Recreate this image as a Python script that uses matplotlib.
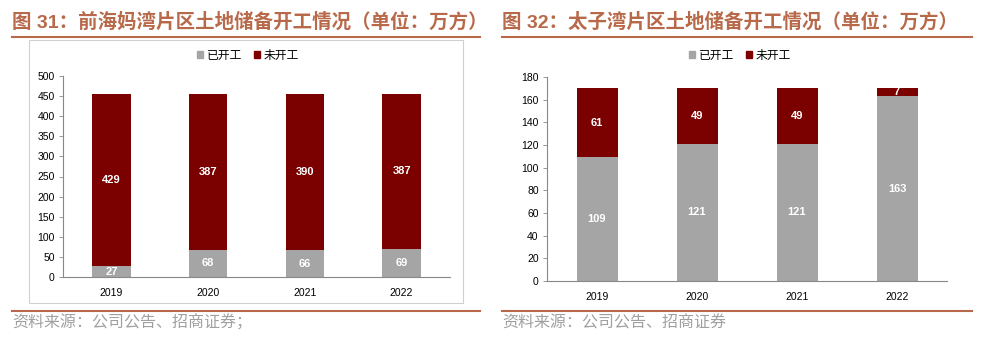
import matplotlib.pyplot as plt
import matplotlib.patches as mpatches
import numpy as np

plt.rcParams['font.family'] = ['Liberation Sans', 'Noto Sans CJK SC', 'DejaVu Sans']

years = ['2019', '2020', '2021', '2022']

# 前海妈湾片区 (万方)
qh_started = [27, 68, 66, 69]
qh_unstarted = [429, 387, 390, 387]

# 太子湾片区 (万方)
tzw_started = [109, 121, 121, 163]
tzw_unstarted = [61, 49, 49, 7]

grey = '#a5a5a5'
dark_red = '#7b0000'
accent = '#b8694a'
W, H = 983, 345

fig = plt.figure(figsize=(W / 100, H / 100), dpi=100)
fig.patch.set_facecolor('white')


def px_axes(x0, y0, x1, y1):
    return fig.add_axes([x0 / W, 1 - y1 / H, (x1 - x0) / W, (y1 - y0) / H])


def stacked(ax, started, unstarted, ymax, step, width):
    x = np.arange(len(years))
    ax.bar(x, started, width=width, color=grey, zorder=2)
    ax.bar(x, unstarted, width=width, bottom=started, color=dark_red, zorder=2)
    for xi, s, u in zip(x, started, unstarted):
        ax.text(xi, s / 2, f'{s}', ha='center', va='center', color='white',
                fontsize=8, fontweight='bold', zorder=3)
        ax.text(xi, s + u / 2, f'{u}', ha='center', va='center', color='white',
                fontsize=8, fontweight='bold', zorder=3)
    ax.set_xlim(-0.5, len(years) - 0.5)
    ax.set_ylim(0, ymax)
    ax.set_yticks(np.arange(0, ymax + 1, step))
    ax.set_xticks(x)
    ax.set_xticklabels(years)
    for side in ('top', 'right'):
        ax.spines[side].set_visible(False)
    for side in ('left', 'bottom'):
        ax.spines[side].set_color('#888888')
        ax.spines[side].set_linewidth(0.8)
    ax.tick_params(axis='y', length=3, width=0.6, color='#888888', labelsize=7.5, pad=3)
    ax.tick_params(axis='x', length=0, labelsize=7.5, pad=8)
    ax.set_facecolor('none')


# left panel frame
fig.add_artist(mpatches.Rectangle((29 / W, 1 - 303 / H), (463 - 29) / W, (303 - 40) / H,
                                  transform=fig.transFigure, fill=False,
                                  edgecolor='#d0d0d0', linewidth=0.8))

ax1 = px_axes(63, 76, 450, 277)
stacked(ax1, qh_started, qh_unstarted, 500, 50, 0.4)

ax2 = px_axes(547, 77, 947, 281)
stacked(ax2, tzw_started, tzw_unstarted, 180, 20, 0.41)

# legends
for cx in (248, 740):
    handles = [mpatches.Patch(color=grey, label='已开工'),
               mpatches.Patch(color=dark_red, label='未开工')]
    fig.legend(handles=handles, loc='center', bbox_to_anchor=(cx / W, 1 - 55 / H),
               ncol=2, frameon=False, handlelength=0.5, handleheight=0.5,
               handletextpad=0.3, columnspacing=1.0,
               prop={'family': ['Noto Sans CJK SC'], 'size': 8.5})

# titles and rules
titles = [(12, '图 31：前海妈湾片区土地储备开工情况（单位：万方）', 12, 480),
          (502, '图 32：太子湾片区土地储备开工情况（单位：万方）', 502, 972)]
for tx, txt, lx0, lx1 in titles:
    fig.text(tx / W, 1 - 22 / H, txt, ha='left', va='center', color=accent,
             fontsize=14, fontweight='bold',
             family=['Liberation Sans', 'Noto Sans CJK SC'])
    fig.add_artist(plt.Line2D([lx0 / W, lx1 / W], [1 - 37 / H] * 2,
                              transform=fig.transFigure, color=accent, linewidth=1.5))
    fig.add_artist(plt.Line2D([lx0 / W, lx1 / W], [1 - 311 / H] * 2,
                              transform=fig.transFigure, color=accent, linewidth=1.5))

fig.text(12 / W, 1 - 323 / H, '资料来源：公司公告、招商证券；', ha='left', va='center',
         color='#a0a0a0', fontsize=11.5, family=['Noto Sans CJK SC'], fontweight='light')
fig.text(502 / W, 1 - 323 / H, '资料来源：公司公告、招商证券', ha='left', va='center',
         color='#a0a0a0', fontsize=11.5, family=['Noto Sans CJK SC'], fontweight='light')

fig.savefig('out.png', dpi=100)
